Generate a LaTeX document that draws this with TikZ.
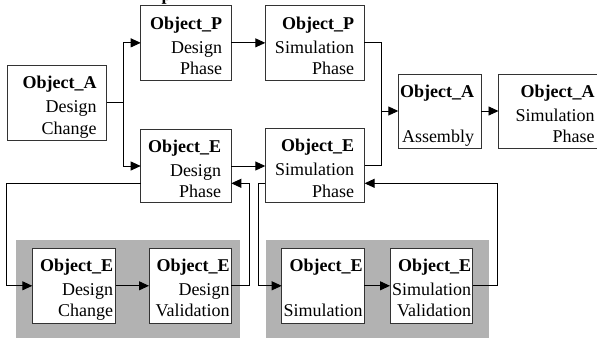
\documentclass[tikz,border=0pt]{standalone}
\usepackage{fontspec}
\setmainfont{Liberation Serif}
\usetikzlibrary{arrows.meta,calc}

\tikzset{
  objbox/.style={draw=black!80, line width=0.9pt, fill=white, rectangle,
    inner sep=0pt, outer sep=0pt, anchor=north west},
  objtext/.style={anchor=base east, inner sep=0pt, outer sep=0pt,
    font=\fontsize{18}{21.5}\selectfont},
  panel/.style={fill=black!30, draw=none},
  link/.style={draw=black, line width=0.9pt},
  flow/.style={link, -{Triangle[length=10pt,width=9pt]}},
}

% three text rows: bold title, then two right-aligned lines
\newcommand{\objlines}[3]{\begin{tabular}[t]{@{}r@{}}\textbf{#1}\\[2.5pt]#2\\#3\end{tabular}}

\begin{document}
\begin{tikzpicture}[x=1pt,y=-1pt]
\useasboundingbox (0,0) rectangle (597,338);
\clip (0,0) rectangle (597,338);

% heading text running above the frame
\node[anchor=base west, inner sep=0pt, font=\fontsize{18}{21.5}\selectfont\bfseries] (heading) at (161.3,0) {p};

% shaded sub-process panels
\fill[panel] (16,240) rectangle (240,338);
\fill[panel] (265.7,240) rectangle (489.3,338);

% process boxes
\node[objbox, minimum width=99.4, minimum height=74.3] (aDC) at (7.3,65.7) {};
\node[objbox, minimum width=90.6, minimum height=74.3] (pD)  at (140.7,5.7) {};
\node[objbox, minimum width=99,   minimum height=74.3] (pS)  at (265.3,5.7) {};
\node[objbox, minimum width=90.6, minimum height=73.4] (eD)  at (140.7,129.3) {};
\node[objbox, minimum width=99.3, minimum height=74]   (eS)  at (265.3,128.7) {};
\node[objbox, minimum width=82.7, minimum height=74]   (aAs) at (398.3,74) {};
\node[objbox, minimum width=110,  minimum height=74]   (aS)  at (498.5,74) {};
\node[objbox, minimum width=83.4, minimum height=75]   (eDC) at (32.3,248.3) {};
\node[objbox, minimum width=82.3, minimum height=75]   (eDV) at (149,248.3) {};
\node[objbox, minimum width=82.6, minimum height=75]   (eSim) at (281.7,248.3) {};
\node[objbox, minimum width=82.5, minimum height=75]   (eSV) at (390,248.3) {};

% box labels
\node[objtext] (aDC-t) at ([shift={(-10,23)}]aDC.north east) {\objlines{Object\_A}{Design}{Change}};
\node[objtext] (pD-t)  at ([shift={(-9.3,23.3)}]pD.north east) {\objlines{Object\_P}{Design}{Phase}};
\node[objtext] (pS-t)  at ([shift={(-10.3,23.3)}]pS.north east) {\objlines{Object\_P}{Simulation}{Phase}};
\node[objtext] (eD-t)  at ([shift={(-10.3,23)}]eD.north east) {\objlines{Object\_E}{Design}{Phase}};
\node[objtext] (eS-t)  at ([shift={(-10.4,23)}]eS.north east) {\objlines{Object\_E}{Simulation}{Phase}};
\node[objtext] (aAs-t) at ([shift={(-7,23)}]aAs.north east) {\objlines{Object\_A}{}{Assembly}};
\node[objtext] (aS-t)  at (594.5,97) {\objlines{Object\_A}{Simulation}{Phase}};
\node[objtext] (eDC-t) at ([shift={(-2.7,22.7)}]eDC.north east) {\objlines{Object\_E}{Design}{Change}};
\node[objtext] (eDV-t) at ([shift={(-1.8,22.7)}]eDV.north east) {\objlines{Object\_E}{Design}{Validation}};
\node[objtext] (eSim-t) at ([shift={(-1.6,22.7)}]eSim.north east) {\objlines{Object\_E}{}{Simulation}};
\node[objtext] (eSV-t) at ([shift={(-1.3,22.7)}]eSV.north east) {\objlines{Object\_E}{Simulation}{Validation}};

% forward flow: split, parallel phases, merge
\coordinate (split) at ([xshift=16.6pt]aDC.east);
\draw[link] (aDC.east) -- (split);
\draw[flow] (split) |- (pD.west);
\draw[flow] (split) |- (eD.west);
\draw[flow] (pD.east) -- (pD.east -| pS.west);
\draw[flow] (eD.east) -- (eD.east -| eS.west);

\coordinate (merge) at ([xshift=16.7pt]pS.east |- aAs.west);
\draw[link] (pS.east) -| (merge);
\draw[link] (eS.east) -| (merge);
\draw[flow] (merge) -- (aAs.west);
\draw[flow] (aAs.east) -- (aAs.east -| aS.west);

% design feedback loop
\coordinate (eDout) at (eD.west |- 0,183.3);
\coordinate (eDin)  at (eD.east |- 0,183.3);
\coordinate (lx) at (6.7,0);
\coordinate (dx) at (249,0);
\draw[flow] (eDout) -| (lx |- eDC.west) -- (eDC.west);
\draw[flow] (eDC.east) -- (eDC.east -| eDV.west);
\draw[flow] (eDV.east) -| (dx |- eDin) -- (eDin);

% simulation feedback loop
\coordinate (eSout) at (eS.west |- 0,183.3);
\coordinate (eSin)  at (eS.east |- 0,183.3);
\coordinate (sx) at (258.3,0);
\coordinate (rx) at (497.7,0);
\draw[flow] (eSout) -| (sx |- eSim.west) -- (eSim.west);
\draw[flow] (eSim.east) -- (eSim.east -| eSV.west);
\draw[flow] (eSV.east) -| (rx |- eSin) -- (eSin);
\end{tikzpicture}
\end{document}
